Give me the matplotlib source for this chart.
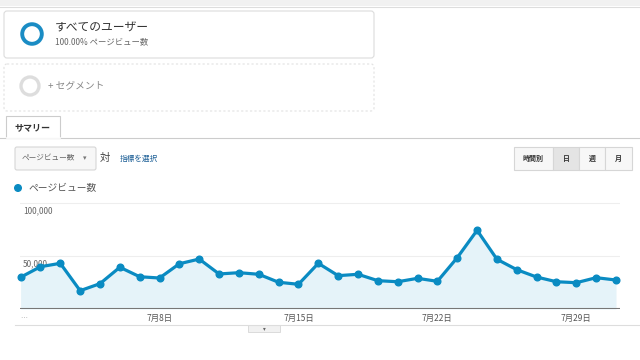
import matplotlib
matplotlib.use('Agg')
import matplotlib.pyplot as plt
from matplotlib.patches import FancyBboxPatch, Rectangle, Circle

plt.rcParams['font.family'] = ['Noto Sans CJK JP', 'DejaVu Sans']

# データ：7月1日〜31日のページビュー数
days = list(range(1, 32))
pageviews = [29800, 39700, 42900, 17200, 23800, 39200, 30300, 29100, 42500, 46900,
             32900, 34100, 32600, 25100, 23200, 42900, 31300, 32600, 26600, 25600,
             28800, 26000, 48200, 73900, 46700, 36900, 30000, 25600, 24700, 29400,
             27200]
tick_days = [8, 15, 22, 29]
tick_labels = ['7月8日', '7月15日', '7月22日', '7月29日']
y_grid = [50000, 100000]
y_labels = ['50,000', '100,000']

W, H = 640, 360
BLUE = '#0a8bc2'
FILL = '#e5f3f9'

fig = plt.figure(figsize=(6.4, 3.6), dpi=100)

# 画面全体（ピクセル座標、上が0）
ui = fig.add_axes([0, 0, 1, 1])
ui.set_xlim(0, W)
ui.set_ylim(H, 0)
ui.axis('off')

# 上部の帯
ui.add_patch(Rectangle((0, 0), W, 6, color='#f1f1f1', lw=0))
ui.plot([0, W], [6.5, 6.5], color='#dddddd', lw=0.8)

# セグメント1
ui.add_patch(FancyBboxPatch((4, 11), 370, 47, boxstyle='round,pad=0,rounding_size=3',
                            fc='white', ec='#dcdcdc', lw=0.8))
ui.add_patch(Circle((32, 34), 9.8, fill=False, ec='#1a8cc4', lw=2.8))
ui.text(55, 28, 'すべてのユーザー', fontsize=8.5, color='#333333', va='center')
ui.text(55, 41.5, '100.00% ページビュー数', fontsize=6, color='#666666', va='center')

# セグメント2
ui.add_patch(FancyBboxPatch((4, 64), 370, 47, boxstyle='round,pad=0,rounding_size=3',
                            fc='white', ec='#e2e2e2', lw=0.8, ls=(0, (2, 2))))
ui.add_patch(Circle((30, 86), 9, fill=False, ec='#dddddd', lw=2.4))
ui.text(48, 85, '+ セグメント', fontsize=7, color='#888888', va='center')

# タブ
ui.plot([0, W], [138, 138], color='#cccccc', lw=0.8)
ui.add_patch(Rectangle((6, 116), 54, 22, fc='white', ec='#cccccc', lw=0.8))
ui.plot([6.5, 59.5], [138, 138], color='white', lw=1.2)
ui.text(14, 128, 'サマリー', fontsize=6.5, color='#333333', va='center', weight='bold')

# 指標ドロップダウン
ui.add_patch(FancyBboxPatch((15, 147), 81, 23, boxstyle='round,pad=0,rounding_size=2',
                            fc='#f7f7f7', ec='#d6d6d6', lw=0.8))
ui.text(22, 158.5, 'ページビュー数', fontsize=5.5, color='#666666', va='center')
ui.text(85, 158.5, '▾', fontsize=5, color='#777777', va='center', ha='center')
ui.text(100, 157.5, '対', fontsize=7.5, color='#444444', va='center')
ui.text(120, 158.5, '指標を選択', fontsize=5.5, color='#1a5d95', va='center')

# 期間ボタン
btns = [('時間別', 514, 553), ('日', 553, 579), ('週', 579, 605), ('月', 605, 632)]
for label, x0, x1 in btns:
    fc = '#e4e4e4' if label == '日' else '#f7f7f7'
    ui.add_patch(Rectangle((x0, 147), x1 - x0, 23, fc=fc, ec='#d6d6d6', lw=0.8))
    ui.text((x0 + x1) / 2, 158.5, label, fontsize=5, color='#333333',
            va='center', ha='center', weight='bold')

# 凡例
ui.add_patch(Circle((18, 188), 3.3, color=BLUE))
ui.text(28, 188, 'ページビュー数', fontsize=7, color='#555555', va='center')

# グラフ下の線とボタン
ui.plot([15, W], [325, 325], color='#dddddd', lw=0.8)
ui.add_patch(Rectangle((248, 325), 32, 7, fc='#f1f1f1', ec='#d6d6d6', lw=0.6))
ui.text(264, 328.5, '▾', fontsize=4, color='#666666', ha='center', va='center')
ui.text(20, 318, '…', fontsize=5, color='#aaaaaa', va='center')

# グラフ本体
left, right, top, bottom = 20, 620, 202.5, 309
ax = fig.add_axes([left / W, 1 - bottom / H, (right - left) / W, (bottom - top) / H])
ax.set_xlim(0.97, 31.2)
ax.set_ylim(0, 100000)
ax.axis('off')

for v, lab in zip(y_grid, y_labels):
    ax.axhline(v, color='#eeeeee', lw=0.8, zorder=0)
    ax.annotate(lab, (0, v), xycoords=('axes fraction', 'data'), xytext=(2, -2.5),
                textcoords='offset points', fontsize=6, color='#666666', va='top')

ax.fill_between(days, pageviews, 0, color=FILL, lw=0, zorder=1)
ax.plot(days, pageviews, color=BLUE, lw=2.3, marker='o', ms=4.8, zorder=3,
        clip_on=False)
ax.axhline(0, color='#777777', lw=1.5, zorder=4)

for d, lab in zip(tick_days, tick_labels):
    ax.annotate(lab, (d, 0), xycoords='data', xytext=(0, -7),
                textcoords='offset points', fontsize=6, color='#555555',
                ha='center', va='center')

fig.savefig('out.png', dpi=100)
